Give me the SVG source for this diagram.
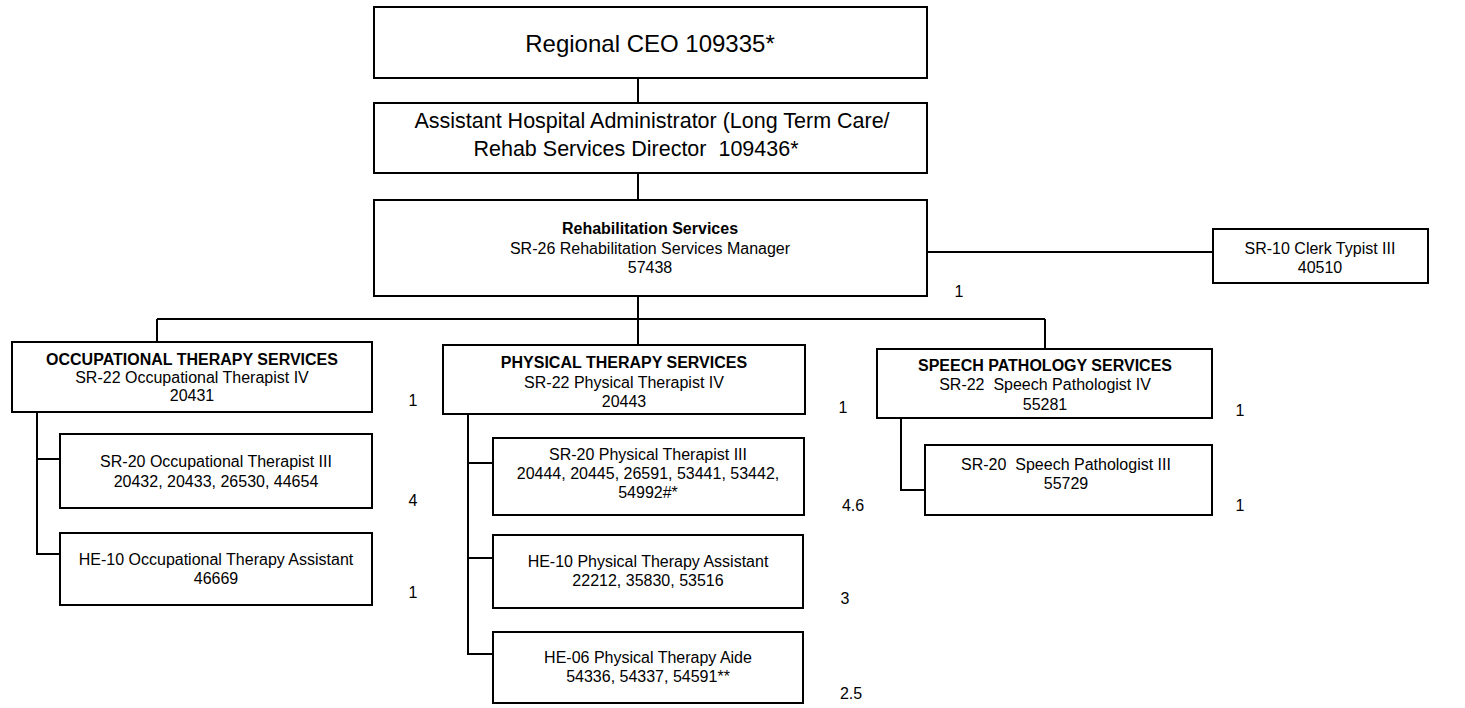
<svg xmlns="http://www.w3.org/2000/svg" width="1465" height="708" viewBox="0 0 1465 708" xml:space="preserve">
<style>
.box{fill:#fff;stroke:#000;stroke-width:2}
.ln{fill:none;stroke:#000;stroke-width:2}
text{font-family:"Liberation Sans",Arial,sans-serif;fill:#000;text-anchor:middle;white-space:pre}
.t{font-size:16px}
.b{font-size:16px;font-weight:bold}
.big{font-size:24px}
.mid{font-size:21.5px}
</style>
<rect width="1465" height="708" fill="#fff"/>
<g id="connectors">
<path class="ln" d="M638 78V103M638 173V200M927 252H1213M638 296V319M157 319H1045M157 319V342M638 319V345M1045 319V349"/>
<path class="ln" d="M37 412V554H60M37 459H60"/>
<path class="ln" d="M468 414V654H493M468 463H493M468 558H493"/>
<path class="ln" d="M901 418V490H925"/>
</g>
<g id="ceo"><rect class="box" x="374" y="7" width="553" height="71"/><text class="big" x="650" y="52">Regional CEO 109335*</text></g>
<g id="asst"><rect class="box" x="374" y="103" width="553" height="70"/><text class="mid" x="652" y="128">Assistant Hospital Administrator (Long Term Care/</text><text class="mid" x="636" y="156">Rehab Services Director  109436*</text></g>
<g id="rehab"><rect class="box" x="374" y="200" width="553" height="96"/><text class="b" x="650" y="234">Rehabilitation Services</text><text class="t" x="650" y="254">SR-26 Rehabilitation Services Manager</text><text class="t" x="650" y="273">57438</text></g>
<g id="clerk"><rect class="box" x="1213" y="229" width="215" height="54"/><text class="t" x="1320" y="254">SR-10 Clerk Typist III</text><text class="t" x="1320" y="273">40510</text></g>
<text class="t" x="959" y="297">1</text>
<g id="ot"><rect class="box" x="12" y="342" width="360" height="70"/><text class="b" x="192" y="365">OCCUPATIONAL THERAPY SERVICES</text><text class="t" x="192" y="383">SR-22 Occupational Therapist IV</text><text class="t" x="192" y="401">20431</text></g>
<text class="t" x="413" y="406">1</text>
<g id="ot3"><rect class="box" x="60" y="434" width="312" height="74"/><text class="t" x="216" y="467">SR-20 Occupational Therapist III</text><text class="t" x="216" y="487">20432, 20433, 26530, 44654</text></g>
<text class="t" x="413" y="506">4</text>
<g id="ota"><rect class="box" x="60" y="533" width="312" height="72"/><text class="t" x="216" y="565">HE-10 Occupational Therapy Assistant</text><text class="t" x="216" y="584">46669</text></g>
<text class="t" x="413" y="598">1</text>
<g id="pt"><rect class="box" x="443" y="345" width="362" height="69"/><text class="b" x="624" y="368">PHYSICAL THERAPY SERVICES</text><text class="t" x="624" y="388">SR-22 Physical Therapist IV</text><text class="t" x="624" y="407">20443</text></g>
<text class="t" x="843" y="413">1</text>
<g id="pt3"><rect class="box" x="493" y="438" width="311" height="77"/><text class="t" x="648" y="460">SR-20 Physical Therapist III</text><text class="t" x="648" y="479">20444, 20445, 26591, 53441, 53442,</text><text class="t" x="648" y="498">54992#*</text></g>
<text class="t" x="853" y="511">4.6</text>
<g id="pta"><rect class="box" x="493" y="535" width="310" height="73"/><text class="t" x="648" y="567">HE-10 Physical Therapy Assistant</text><text class="t" x="648" y="586">22212, 35830, 53516</text></g>
<text class="t" x="845" y="604">3</text>
<g id="ptaide"><rect class="box" x="493" y="632" width="310" height="71"/><text class="t" x="648" y="663">HE-06 Physical Therapy Aide</text><text class="t" x="648" y="682">54336, 54337, 54591**</text></g>
<text class="t" x="851" y="699">2.5</text>
<g id="sp"><rect class="box" x="877" y="349" width="335" height="69"/><text class="b" x="1045" y="371">SPEECH PATHOLOGY SERVICES</text><text class="t" x="1045" y="390">SR-22  Speech Pathologist IV</text><text class="t" x="1045" y="410">55281</text></g>
<text class="t" x="1240" y="416">1</text>
<g id="sp3"><rect class="box" x="925" y="445" width="287" height="70"/><text class="t" x="1066" y="470">SR-20  Speech Pathologist III</text><text class="t" x="1066" y="489">55729</text></g>
<text class="t" x="1240" y="511">1</text>
</svg>
